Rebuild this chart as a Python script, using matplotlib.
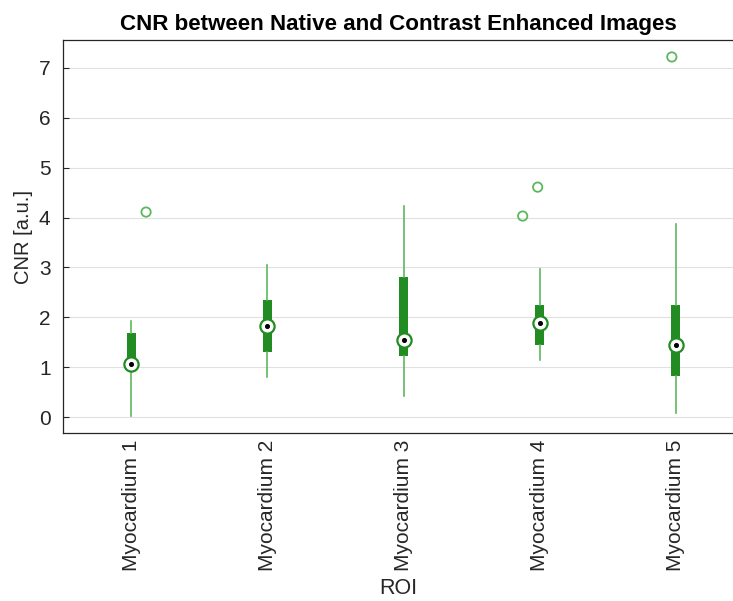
import matplotlib
matplotlib.use("Agg")
import matplotlib.pyplot as plt

categories = ["Myocardium 1", "Myocardium 2", "Myocardium 3", "Myocardium 4", "Myocardium 5"]
whisker_low = [0.02, 0.80, 0.42, 1.14, 0.08]
q1 = [1.02, 1.30, 1.22, 1.44, 0.82]
median = [1.06, 1.83, 1.55, 1.89, 1.44]
q3 = [1.68, 2.35, 2.81, 2.25, 2.25]
whisker_high = [1.93, 3.05, 4.23, 2.97, 3.87]
outlier_group = [1, 4, 4, 5]
outlier_values = [4.11, 4.03, 4.61, 7.22]
outlier_jitter = [0.11, -0.125, -0.015, -0.03]
yticks = [0, 1, 2, 3, 4, 5, 6, 7]

plt.rcParams['font.family'] = ['Liberation Sans', 'DejaVu Sans']

fig = plt.figure(figsize=(7.33, 6.01), dpi=100)
ax = fig.add_axes([63/733, 1 - 433/601, 1 - 63/733 + 0.002, (433 - 40)/601])

dark = '#228B22'
light = '#5cb85c'

stats = []
for i in range(len(categories)):
    stats.append(dict(med=median[i], q1=q1[i], q3=q3[i],
                      whislo=whisker_low[i], whishi=whisker_high[i], fliers=[]))
pos = list(range(1, len(categories) + 1))
ax.bxp(stats, positions=pos, widths=0.065, showfliers=False, showcaps=False,
       patch_artist=True,
       boxprops=dict(facecolor=dark, edgecolor=dark, linewidth=0),
       whiskerprops=dict(color=light, linewidth=1.2),
       medianprops=dict(linewidth=0, color='none'), zorder=3)
ax.scatter(pos, median, s=105, facecolor='white', edgecolor=dark, linewidth=1.6, zorder=4)
ax.scatter(pos, median, s=7, color='black', zorder=5)
ax.scatter([g + j for g, j in zip(outlier_group, outlier_jitter)], outlier_values,
           s=45, facecolor='none', edgecolor=light, linewidth=1.3, zorder=4)

ax.set_xlim(0.5, 5.43)
ax.set_ylim(-0.32, 7.56)
ax.set_yticks(yticks)
ax.set_xticks(pos)
ax.set_xticklabels(categories, rotation=90, fontsize=15, color='#262626')
ax.tick_params(axis='y', labelsize=15, colors='#262626', direction='in', length=4, pad=9)
ax.tick_params(axis='x', length=0, pad=5)
ax.grid(axis='y', color='#e0e0e0', linewidth=0.8)
ax.set_axisbelow(True)
for s in ['left', 'top', 'bottom']:
    ax.spines[s].set_color('#262626')
    ax.spines[s].set_linewidth(0.9)
ax.spines['right'].set_visible(False)

ax.set_ylabel('CNR [a.u.]', fontsize=14.5, color='#262626', labelpad=4)
ax.set_xlabel('ROI', fontsize=15.5, color='#262626', labelpad=5)
ax.set_title('CNR between Native and Contrast Enhanced Images', fontsize=16.1,
             fontweight='bold', color='black', pad=7)

fig.savefig('out.png', dpi=100)
